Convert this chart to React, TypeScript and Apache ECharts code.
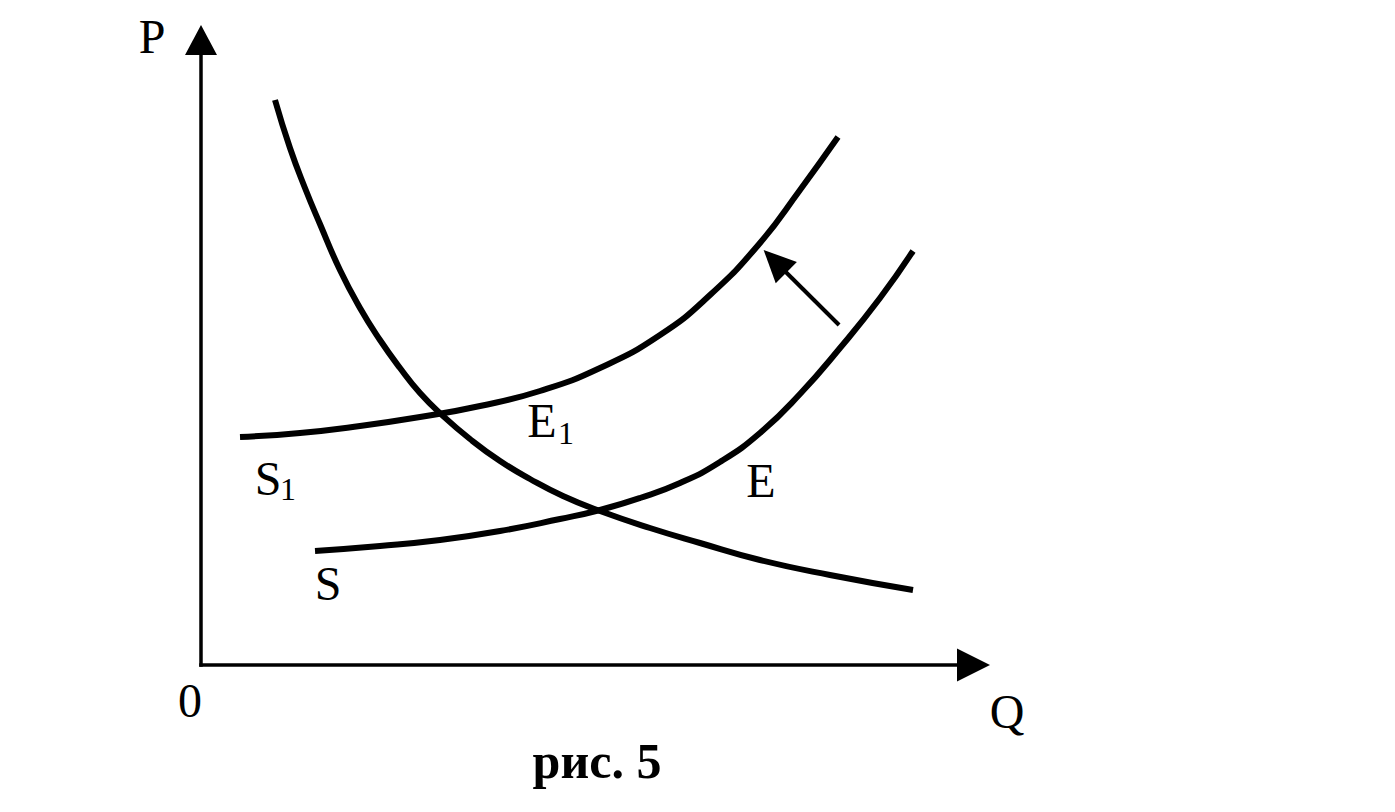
import React, { useEffect, useRef } from "react";
import * as echarts from "echarts";

// Curves in chart units (Q: 0..100, P: 0..100)
const demandCurve: [number, number][] = [
  [9.58, 90.4], [11.52, 82.72], [13.46, 76.32], [15.4, 70.56], [17.99, 63.2],
  [20.58, 57.12], [23.17, 52.0], [25.76, 47.52], [28.35, 43.52], [31.2, 40.0],
  [34.82, 36.16], [38.71, 32.64], [42.59, 29.76], [46.86, 27.04], [51.65, 24.64],
  [58.12, 21.92], [64.6, 19.52], [72.36, 16.8], [81.42, 14.4], [92.17, 12.0],
];
const supplyS1: [number, number][] = [
  [5.05, 36.48], [12.82, 37.12], [20.58, 38.24], [28.35, 39.68], [36.12, 41.44],
  [43.88, 43.84], [51.65, 47.52], [59.42, 52.8], [65.89, 59.2], [72.36, 67.52],
  [77.54, 76.0], [82.46, 84.48],
];
const supplyS: [number, number][] = [
  [14.76, 18.24], [23.17, 19.04], [30.94, 20.0], [38.71, 21.44], [46.47, 23.36],
  [51.65, 24.8], [56.83, 26.72], [62.01, 29.12], [67.18, 32.48], [72.36, 37.12],
  [77.54, 43.36], [82.72, 50.72], [87.9, 58.72], [92.17, 66.24],
];
const shiftArrowFrom: [number, number] = [82.6, 54.4];
const shiftArrowTo: [number, number] = [74.3, 64.6];

const FONT = "'Liberation Serif', 'Times New Roman', Times, serif";

function txt(text: string, x: number, y: number, size = 48, weight: string = "normal") {
  return {
    type: "text",
    x,
    y,
    silent: true,
    style: {
      text,
      fill: "#000",
      fontSize: size,
      fontFamily: FONT,
      fontWeight: weight,
      align: "center",
      verticalAlign: "middle",
      textAlign: "center",
      textVerticalAlign: "middle",
    },
  };
}

const curveStyle = { color: "#000", width: 6, cap: "butt" };

export default function App() {
  const ref = useRef<HTMLDivElement>(null);
  useEffect(() => {
    if (!ref.current) return;
    const chart = echarts.init(ref.current, undefined, { renderer: "svg" });
    chart.setOption({
      animation: false,
      backgroundColor: "#fff",
      grid: { left: 201, right: 421.5, top: 40, bottom: 147, containLabel: false },
      xAxis: {
        type: "value",
        min: 0,
        max: 100,
        axisLine: {
          show: true,
          symbol: ["none", "triangle"],
          symbolSize: [33, 33],
          lineStyle: { color: "#000", width: 3.5, cap: "square" },
        },
        axisTick: { show: false },
        axisLabel: { show: false },
        splitLine: { show: false },
      },
      yAxis: {
        type: "value",
        min: 0,
        max: 100,
        axisLine: {
          show: true,
          symbol: ["none", "triangle"],
          symbolSize: [32, 30],
          lineStyle: { color: "#000", width: 3.5, cap: "square" },
        },
        axisTick: { show: false },
        axisLabel: { show: false },
        splitLine: { show: false },
      },
      series: [
        {
          name: "D",
          type: "line",
          data: demandCurve,
          smooth: 0.5,
          showSymbol: false,
          lineStyle: curveStyle,
          silent: true,
        },
        {
          name: "S1",
          type: "line",
          data: supplyS1,
          smooth: 0.5,
          showSymbol: false,
          lineStyle: curveStyle,
          silent: true,
        },
        {
          name: "S",
          type: "line",
          data: supplyS,
          smooth: 0.5,
          showSymbol: false,
          lineStyle: curveStyle,
          silent: true,
          markLine: {
            silent: true,
            symbol: ["none", "triangle"],
            symbolSize: [30, 32],
            label: { show: false },
            lineStyle: { color: "#000", width: 4, type: "solid" },
            data: [[{ coord: shiftArrowFrom }, { coord: shiftArrowTo }]],
          },
        },
      ],
      graphic: [
        txt("P", 152, 36),
        txt("0", 190, 700),
        txt("Q", 1007, 711),
        txt("S", 268, 478),
        txt("1", 288, 489, 32),
        txt("E", 542, 420),
        txt("1", 566, 433, 32),
        txt("E", 761, 480),
        txt("S", 328, 583),
        txt("рис. 5", 597, 761, 50, "bold"),
      ],
    });
    return () => chart.dispose();
  }, []);
  return (
    <div
      ref={ref}
      style={{ position: "absolute", left: 0, top: 0, width: 1395, height: 812 }}
    />
  );
}
